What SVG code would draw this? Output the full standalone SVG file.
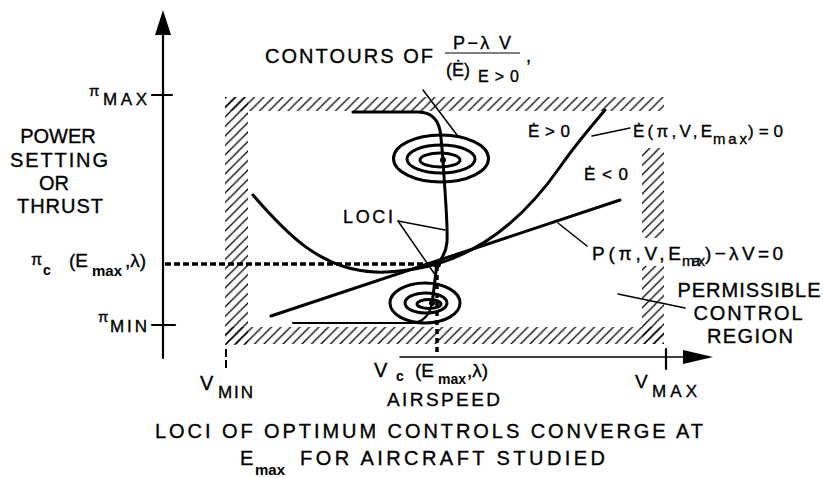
<svg xmlns="http://www.w3.org/2000/svg" width="823" height="478" viewBox="0 0 823 478">
<style>
.ln{fill:none;stroke:#000;stroke-linecap:round;stroke-linejoin:round}
.w3{stroke-width:3}
.w2{stroke-width:2.2}
.w1{stroke-width:1.5}
.dash{fill:none;stroke:#000;stroke-width:3.5;stroke-dasharray:6 3}
.t{font-family:"Liberation Sans",Arial,Helvetica,sans-serif;fill:#000;stroke:#000;stroke-width:0.35}
.b{font-weight:bold;stroke-width:0}
</style>
<defs>
<pattern id="hatch" patternUnits="userSpaceOnUse" width="9.5" height="9.5">
<path d="M-2,11.5 L11.5,-2 M-2,2 L2,-2 M7.5,11.5 L11.5,7.5" stroke="#000" stroke-width="1.25"/>
</pattern>
</defs>
<rect width="823" height="478" fill="#fff"/>

<g id="region">
<rect x="225" y="97" width="439" height="14" fill="url(#hatch)"/>
<rect x="225" y="97" width="23" height="248" fill="url(#hatch)"/>
<rect x="225" y="327" width="439" height="17" fill="url(#hatch)"/>
<rect x="642" y="148" width="22" height="90" fill="url(#hatch)"/>
<rect x="642" y="266" width="22" height="78" fill="url(#hatch)"/>
</g>

<g id="axes">
<line class="ln w2" x1="163" y1="30" x2="163" y2="358"/>
<polygon points="163,10 155,35 171,35" fill="#000"/>
<line class="ln w2" x1="152" y1="95" x2="172" y2="95"/>
<line class="ln w2" x1="152" y1="325" x2="175" y2="325"/>
<line class="ln w1" x1="400" y1="357" x2="690" y2="357"/>
<polygon points="713,357 683,350 683,364" fill="#000"/>
<line class="ln w2" x1="666" y1="349" x2="666" y2="369"/>
<line x1="226" y1="349" x2="226" y2="368" stroke="#000" stroke-width="2" stroke-dasharray="8 3"/>
</g>

<g id="connectors">
<line class="dash" x1="165" y1="264" x2="436" y2="264"/>
<line class="dash" x1="437" y1="266" x2="437" y2="356" style="stroke-dasharray:5 4"/>
<path id="edot-zero" class="ln w3" d="M253,195 C285,232 320,270 375,272 C400,273 420,268 437,264 C490,248 530,210 560,167 C575,145 590,128 605,110"/>
<line id="p-line" class="ln w3" x1="271" y1="316" x2="620" y2="200"/>
<path id="loci-upper" class="ln w3" d="M353,112 L418,112 C432,112 440,120 441,138 L443,160 C445,195 448,225 447,242 C446,253 442,259 437,264"/>
<path id="loci-lower" class="ln w3" d="M437,264 C435,278 434,290 432,303"/>
<path id="loci-bottom" class="ln w2" d="M293,323 L412,323 C424,322 430,314 432,303"/>
<circle cx="437" cy="264" r="4" fill="#000"/>
<line class="ln w1" x1="398" y1="221" x2="445" y2="230"/>
<line class="ln w1" x1="398" y1="221" x2="436" y2="276"/>
<line class="ln w1" x1="423" y1="90" x2="457" y2="135"/>
<line class="ln w1" x1="592" y1="136" x2="630" y2="128"/>
<line class="ln w1" x1="558" y1="223" x2="587" y2="246"/>
<line class="ln w1" x1="618" y1="294" x2="685" y2="308"/>
</g>

<g id="contours-upper">
<ellipse class="ln w3" cx="441" cy="158.5" rx="47.5" ry="23.5"/>
<ellipse class="ln w3" cx="441" cy="159" rx="34" ry="14"/>
<ellipse class="ln w3" cx="440" cy="160" rx="20" ry="7"/>
<circle cx="443" cy="160" r="3" fill="#000"/>
</g>
<g id="contours-lower">
<ellipse class="ln w3" cx="425" cy="303" rx="35" ry="20"/>
<ellipse class="ln w3" cx="426" cy="303" rx="21" ry="10"/>
<ellipse class="ln w3" cx="429" cy="304" rx="12" ry="4.5"/>
<circle cx="432" cy="303" r="3" fill="#000"/>
</g>

<g id="labels">
<text class="t" x="265" y="63" font-size="20" textLength="168" lengthAdjust="spacing">CONTOURS OF</text>
<text class="t" x="453" y="49" font-size="18" textLength="58" lengthAdjust="spacing">P−λ V</text>
<line x1="445" y1="53" x2="520" y2="53" stroke="#000" stroke-width="1.2"/>
<text class="t" x="446" y="76" font-size="18">(Ė)</text>
<text class="t" x="478" y="82" font-size="16" textLength="41" lengthAdjust="spacing">E&gt;0</text>
<text class="t" x="526" y="62" font-size="18">,</text>

<text class="t" x="89" y="96" font-size="15">π</text>
<text class="t" x="103" y="105" font-size="17" textLength="44" lengthAdjust="spacing">MAX</text>

<g text-anchor="middle">
<text class="t" x="58" y="143" font-size="20">POWER</text>
<text class="t" x="59" y="167" font-size="20" textLength="98" lengthAdjust="spacing">SETTING</text>
<text class="t" x="54" y="190" font-size="20">OR</text>
<text class="t" x="60" y="213" font-size="20" textLength="86" lengthAdjust="spacing">THRUST</text>
</g>

<text class="t" x="31" y="265" font-size="16">π</text>
<text class="t b" x="43" y="275" font-size="14">c</text>
<text class="t" x="69" y="267" font-size="19">(E</text>
<text class="t b" x="92" y="276" font-size="15">max</text>
<text class="t" x="125" y="267" font-size="19">,λ)</text>

<text class="t" x="98" y="322" font-size="15">π</text>
<text class="t" x="110" y="332" font-size="17" textLength="37" lengthAdjust="spacing">MIN</text>

<text class="t" x="343" y="223" font-size="18" textLength="50" lengthAdjust="spacing">LOCI</text>

<text class="t" x="528" y="137" font-size="17" textLength="42" lengthAdjust="spacing">Ė&gt;0</text>
<text class="t" x="584" y="180" font-size="17" textLength="44" lengthAdjust="spacing">Ė&lt;0</text>
<text class="t" x="633" y="137" font-size="17" textLength="79" lengthAdjust="spacing">Ė(π,V,E</text>
<text class="t" x="713" y="144" font-size="15" textLength="34" lengthAdjust="spacing">max</text>
<text class="t" x="748" y="137" font-size="17" textLength="35" lengthAdjust="spacing">)=0</text>

<text class="t" x="592" y="260" font-size="19" textLength="89" lengthAdjust="spacing">P(π,V,E</text>
<text class="t" x="682" y="266" font-size="15" textLength="23" lengthAdjust="spacing">max</text>
<text class="t" x="705" y="260" font-size="19" textLength="78" lengthAdjust="spacing">)−λV=0</text>

<g text-anchor="middle">
<text class="t" x="749" y="297" font-size="20" textLength="143" lengthAdjust="spacing">PERMISSIBLE</text>
<text class="t" x="748" y="320" font-size="20" textLength="109" lengthAdjust="spacing">CONTROL</text>
<text class="t" x="750" y="343" font-size="20" textLength="86" lengthAdjust="spacing">REGION</text>
</g>

<text class="t" x="200" y="390" font-size="20">V</text>
<text class="t" x="218" y="398" font-size="17" textLength="35" lengthAdjust="spacing">MIN</text>

<text class="t" x="374" y="377" font-size="20">V</text>
<text class="t b" x="396" y="381" font-size="14">c</text>
<text class="t" x="415" y="377" font-size="19">(E</text>
<text class="t b" x="438" y="384" font-size="14">max</text>
<text class="t" x="467" y="377" font-size="19">,λ)</text>

<text class="t" x="635" y="388" font-size="19">V</text>
<text class="t" x="652" y="397" font-size="17" textLength="45" lengthAdjust="spacing">MAX</text>

<text class="t" x="387" y="406" font-size="19" textLength="113" lengthAdjust="spacing">AIRSPEED</text>
<text class="t" x="155" y="438" font-size="20" textLength="548" lengthAdjust="spacing">LOCI OF OPTIMUM CONTROLS CONVERGE AT</text>
<text class="t" x="240" y="465" font-size="20">E</text>
<text class="t b" x="255" y="475" font-size="15">max</text>
<text class="t" x="300" y="465" font-size="20" textLength="305" lengthAdjust="spacing">FOR AIRCRAFT STUDIED</text>
</g>
</svg>
